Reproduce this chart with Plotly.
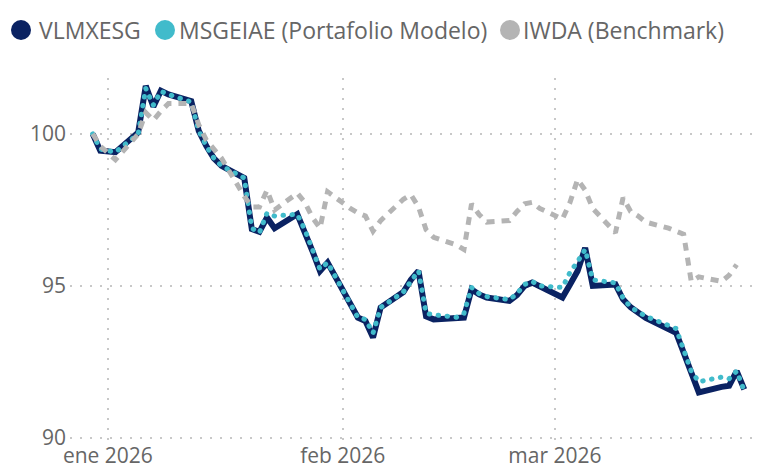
import plotly.graph_objects as go

dates = [
    "2025-12-30", "2025-12-31", "2026-01-02", "2026-01-05", "2026-01-06", "2026-01-07",
    "2026-01-08", "2026-01-09", "2026-01-12", "2026-01-13", "2026-01-14", "2026-01-15",
    "2026-01-16", "2026-01-19", "2026-01-20", "2026-01-21", "2026-01-22", "2026-01-23",
    "2026-01-26", "2026-01-27", "2026-01-28", "2026-01-29", "2026-01-30", "2026-02-02",
    "2026-02-03", "2026-02-04", "2026-02-05", "2026-02-06", "2026-02-09", "2026-02-10",
    "2026-02-11", "2026-02-12", "2026-02-13", "2026-02-16", "2026-02-17", "2026-02-18",
    "2026-02-19", "2026-02-20", "2026-02-23", "2026-02-24", "2026-02-25", "2026-02-26",
    "2026-02-27", "2026-03-02", "2026-03-03", "2026-03-04", "2026-03-05", "2026-03-06",
    "2026-03-09", "2026-03-10", "2026-03-11", "2026-03-12", "2026-03-13", "2026-03-16",
    "2026-03-17", "2026-03-18", "2026-03-19", "2026-03-20", "2026-03-23", "2026-03-24",
    "2026-03-25", "2026-03-26",
]

vlmxesg = [
    100.0, 99.45, 99.4, 100.05, 101.58, 100.9,
    101.42, 101.3, 101.08, 100.1, 99.6, 99.2,
    98.95, 98.55, 96.87, 96.78, 97.25, 96.9,
    97.36, 96.8, 96.15, 95.49, 95.77, None,
    93.96, 93.85, 93.3, 94.29, 94.8, 95.2,
    95.49, 94.0, 93.9, 93.92, 93.96, 94.89,
    94.72, 94.62, 94.51, 94.7, 95.0, 95.11,
    94.98, 94.62, 95.05, 95.49, 96.25, 95.0,
    95.05, 94.56, 94.3, 94.1, 93.95, None,
    93.46, 92.8, 92.1, 91.5, 91.68, 91.72,
    92.2, 91.6,
]

msgeiae = [
    100.0, 99.5, 99.4, 100.0, 101.5, 100.95,
    101.4, 101.3, 101.05, 100.1, 99.6, 99.2,
    98.95, 98.55, 96.9, 96.75, 97.4, 97.3,
    97.36, 96.85, 96.2, 95.55, 95.77, None,
    93.96, 93.9, 93.45, 94.29, 94.8, 95.15,
    95.5, 94.1, 94.05, 93.97, 94.1, 94.95,
    94.75, 94.65, 94.55, 94.75, 95.05, 95.15,
    95.0, 94.95, 95.45, 95.8, 96.2, 95.2,
    95.1, 94.6, 94.3, 94.15, 94.0, None,
    93.6, 92.9, 92.2, 91.85, 92.0, 91.95,
    92.2, 91.55,
]

iwda = [
    100.0, 99.6, 99.15, 100.0, 100.7, 100.45,
    100.75, 101.0, 101.0, 100.3, 99.8, 99.5,
    99.2, 97.95, 97.6, 97.6, 98.15, 97.5,
    98.05, 97.75, 97.25, 96.9, 98.1, 97.55,
    97.4, 97.3, 96.8, 97.15, 97.85, 98.0,
    97.6, 96.85, 96.6, 96.35, 96.2, 97.7,
    97.35, 97.1, 97.15, 97.45, 97.7, 97.75,
    97.55, 97.2, 97.75, 98.5, 98.15, 97.55,
    96.75, 97.9, 97.45, 97.3, 97.1, 96.9,
    96.8, 96.7, 95.15, 95.3, 95.15, 95.35,
    95.7, None,
]

series_names = ["VLMXESG", "MSGEIAE (Portafolio Modelo)", "IWDA (Benchmark)"]
series_colors = ["#0A2262", "#41BBCB", "#B4B4B4"]

x_tickvals = ["2026-01-01", "2026-02-01", "2026-03-01"]
x_ticktext = ["ene 2026", "feb 2026", "mar 2026"]
y_tickvals = [90, 95, 100]

FONT = "Open Sans"
TEXT = "#666666"

# plot area in pixels (for placing the hand-made legend above it)
W, H = 760, 469
ML, MR, MT, MB = 70, 5, 78, 28
PW, PH = W - ML - MR, H - MT - MB


def px_to_paper_x(px):
    return (px - ML) / PW


def px_to_paper_y(py):
    return (H - MB - py) / PH


fig = go.Figure()

fig.add_trace(go.Scatter(x=dates, y=vlmxesg, mode="lines", connectgaps=True,
                         name=series_names[0],
                         line=dict(color=series_colors[0], width=6), showlegend=False,
                         hoverinfo="skip"))
fig.add_trace(go.Scatter(x=dates, y=msgeiae, mode="lines", connectgaps=True,
                         name=series_names[1],
                         line=dict(color=series_colors[1], width=5, dash="0.5px,8.5px"),
                         showlegend=False, hoverinfo="skip"))
fig.add_trace(go.Scatter(x=dates, y=iwda, mode="lines", connectgaps=True,
                         name=series_names[2],
                         line=dict(color=series_colors[2], width=5, dash="8px,7px"),
                         showlegend=False, hoverinfo="skip"))

# legend: circles + text
legend_circle_px = [21, 165, 510]
legend_text_px = [37, 177, 521]
legend_y_px = 30
shapes = []
annotations = []
for name, color, cx, tx in zip(series_names, series_colors, legend_circle_px, legend_text_px):
    shapes.append(dict(type="circle", xref="paper", yref="paper",
                       xsizemode="pixel", ysizemode="pixel",
                       xanchor=px_to_paper_x(cx), yanchor=px_to_paper_y(legend_y_px),
                       x0=-10, x1=10, y0=-10, y1=10,
                       fillcolor=color, line=dict(width=0)))
    annotations.append(dict(text=name, xref="paper", yref="paper",
                            x=px_to_paper_x(tx), y=px_to_paper_y(legend_y_px),
                            xanchor="left", yanchor="middle", showarrow=False,
                            font=dict(family=FONT, size=23, color=TEXT)))

fig.update_layout(
    width=W, height=H,
    margin=dict(l=ML, r=MR, t=MT, b=MB),
    paper_bgcolor="white", plot_bgcolor="white",
    font=dict(family=FONT, color=TEXT, size=21),
    showlegend=False,
    shapes=shapes,
    annotations=annotations,
    xaxis=dict(
        type="date",
        range=["2025-12-27 00:00", "2026-03-27 10:00"],
        tickvals=x_tickvals, ticktext=x_ticktext,
        showgrid=True, gridcolor="#C8C8C8", gridwidth=2, griddash="2px,8px",
        zeroline=False, showline=False, ticks="",
        tickfont=dict(family=FONT, size=21, color=TEXT),
        ticklabelstandoff=0,
        automargin=False,
    ),
    yaxis=dict(
        range=[89.9, 101.84],
        tickvals=y_tickvals,
        showgrid=True, gridcolor="#C8C8C8", gridwidth=2, griddash="2px,8px",
        zeroline=False, showline=False, ticks="",
        tickfont=dict(family=FONT, size=21, color=TEXT),
        ticklabelstandoff=3,
        automargin=False,
    ),
    hovermode=False,
)

post = """
document.body.style.margin = '0';
document.body.style.padding = '0';
var gd = document.getElementById('{plot_id}');
function roundDots() {
  var traces = gd.querySelectorAll('.scatterlayer .trace');
  if (traces.length > 1) {
    traces[1].querySelectorAll('path.js-line').forEach(function (p) {
      p.style.setProperty('stroke-linecap', 'round');
      p.style.setProperty('stroke-linejoin', 'round');
    });
  }
}
roundDots();
gd.on('plotly_afterplot', roundDots);
"""

fig.write_html("out.html", post_script=post,
               config={"displayModeBar": False, "staticPlot": True})
